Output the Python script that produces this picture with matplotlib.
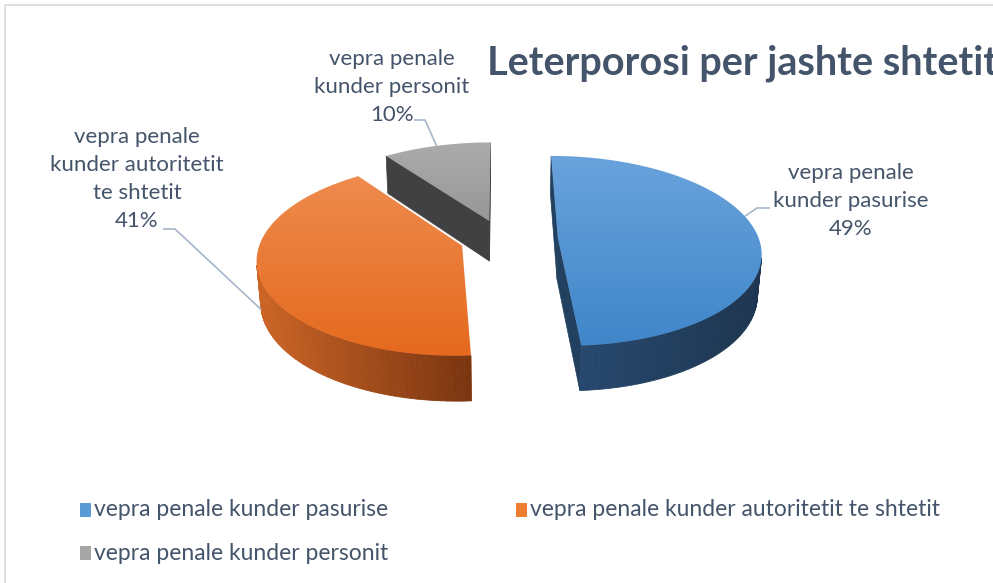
import numpy as np
import matplotlib
matplotlib.use("Agg")
import matplotlib.pyplot as plt
from matplotlib.patches import Polygon, Rectangle

# ---- data -------------------------------------------------------------
categories = [
    "vepra penale kunder pasurise",
    "vepra penale kunder autoritetit te shtetit",
    "vepra penale kunder personit",
]
shares = [49, 41, 10]
slice_labels = [
    "vepra penale\nkunder pasurise",
    "vepra penale\nkunder autoritetit\nte shtetit",
    "vepra penale\nkunder personit",
]
title = "Leterporosi per jashte shtetit"

# ---- styling ----------------------------------------------------------
FONT = "Lato"
TEXT_COLOR = "#44546a"
top_colors = [("#6aa3dc", "#3f86c9"), ("#ee8b4e", "#e5691e"), ("#ababab", "#979797")]
side_colors = [("#27496f", "#1d3550"), ("#cc6526", "#7a3510"), ("#474747", "#383838")]
radial_colors = ["#22405f", "#8a3c12", "#414141"]
legend_colors = ["#5b9bd5", "#ed7d31", "#a5a5a5"]
explode = [56, 42, 42]

W, H = 993, 583
fig = plt.figure(figsize=(W / 100, H / 100), dpi=100)
ax = fig.add_axes([0, 0, 1, 1])
ax.set_xlim(0, W)
ax.set_ylim(H, 0)
ax.axis("off")

# outer frame of the chart area
ax.add_patch(Rectangle((5, 5), W + 20, H + 20, fill=False, ec="#d9d9d9", lw=1.2))

# ---- 3D projection ----------------------------------------------------
R = 201.0
DEPTH = 47.0
ELEV = np.radians(27.7)
CAM = 1336.0
VX, PX, PY = 500.0, 502.0, 239.0
CAM_POS = np.array([VX - PX, -CAM * np.cos(ELEV), CAM * np.sin(ELEV)])


def proj(X, Y, Z):
    X, Y, Z = np.asarray(X, float), np.asarray(Y, float), np.asarray(Z, float)
    dv = Y * np.cos(ELEV) - Z * np.sin(ELEV)
    s = CAM / (CAM + dv)
    sx = VX + (PX - VX + X) * s
    sy = PY - (Y * np.sin(ELEV) + Z * np.cos(ELEV)) * s
    return sx, sy


def mix(c1, c2, f):
    a = np.array(matplotlib.colors.to_rgb(c1))
    b = np.array(matplotlib.colors.to_rgb(c2))
    return tuple(a + (b - a) * f)


def facing(normal, point):
    return np.dot(normal, CAM_POS - point) > 0


total = float(sum(shares))
bounds = np.concatenate([[0], np.cumsum(shares)]) / total * 360.0
geoms = []
for i in range(len(shares)):
    t0, t1 = bounds[i], bounds[i + 1]
    tm = np.radians((t0 + t1) / 2)
    off = np.array([np.sin(tm), np.cos(tm)]) * explode[i]
    geoms.append((t0, t1, off))


def draw_slice(i):
    t0, t1, off = geoms[i]
    n = max(8, int((t1 - t0) / 1.5))
    t = np.radians(np.linspace(t0, t1, n))
    ax_ = off[0] + R * np.sin(t)
    ay_ = off[1] + R * np.cos(t)
    top_x, top_y = proj(ax_, ay_, 0.0)
    bot_x, bot_y = proj(ax_, ay_, -DEPTH)
    cx_t, cy_t = proj(off[0], off[1], 0.0)
    cx_b, cy_b = proj(off[0], off[1], -DEPTH)

    # radial walls
    for tb, sign in ((t0, -1), (t1, 1)):
        tr = np.radians(tb)
        normal = np.array([sign * np.cos(tr), -sign * np.sin(tr), 0.0])
        p = np.array([off[0], off[1], -DEPTH / 2])
        if facing(normal, p):
            ex, ey = off[0] + R * np.sin(tr), off[1] + R * np.cos(tr)
            ex_t, ey_t = proj(ex, ey, 0.0)
            ex_b, ey_b = proj(ex, ey, -DEPTH)
            poly = [(cx_t, cy_t), (ex_t, ey_t), (ex_b, ey_b), (cx_b, cy_b)]
            ax.add_patch(Polygon(poly, closed=True, fc=radial_colors[i],
                                 ec=radial_colors[i], lw=0.5))

    # curved outer wall
    vis = []
    for k in range(n - 1):
        tmid = (t[k] + t[k + 1]) / 2
        normal = np.array([np.sin(tmid), np.cos(tmid), 0.0])
        p = np.array([off[0] + R * np.sin(tmid), off[1] + R * np.cos(tmid), -DEPTH / 2])
        if facing(normal, p):
            vis.append(k)
    if vis:
        xs = top_x[vis[0]:vis[-1] + 2]
        xmin, xmax = xs.min(), xs.max()
        for k in vis:
            xm = (top_x[k] + top_x[k + 1]) / 2
            f = 0.0 if xmax == xmin else (xm - xmin) / (xmax - xmin)
            col = mix(side_colors[i][0], side_colors[i][1], f)
            poly = [(top_x[k], top_y[k]), (top_x[k + 1], top_y[k + 1]),
                    (bot_x[k + 1], bot_y[k + 1]), (bot_x[k], bot_y[k])]
            ax.add_patch(Polygon(poly, closed=True, fc=col, ec=col, lw=0.6))

    # top face with vertical gradient
    verts = np.column_stack([np.concatenate([[cx_t], top_x]),
                             np.concatenate([[cy_t], top_y])])
    clip = Polygon(verts, closed=True, fc="none", ec="none")
    ax.add_patch(clip)
    y0, y1 = verts[:, 1].min(), verts[:, 1].max()
    x0, x1 = verts[:, 0].min(), verts[:, 0].max()
    grad = np.linspace(0, 1, 200)[:, None]
    c_a = np.array(matplotlib.colors.to_rgb(top_colors[i][0]))
    c_b = np.array(matplotlib.colors.to_rgb(top_colors[i][1]))
    img = c_a[None, None, :] + (c_b - c_a)[None, None, :] * grad[:, :, None]
    img = np.repeat(img, 2, axis=1)
    im = ax.imshow(img, extent=(x0 - 1, x1 + 1, y1 + 1, y0 - 1), aspect="auto",
                   interpolation="bilinear", zorder=3)
    im.set_clip_path(clip)
    ax.set_xlim(0, W)
    ax.set_ylim(H, 0)


# back to front: personit, autoritetit, pasurise
for i in (2, 1, 0):
    draw_slice(i)

# ---- data labels with leader lines -------------------------------------
LEADER = "#a6b6c8"
label_pos = [(851, 201), (137, 179), (392, 87)]
anchor_angles = [76.0, 256.0, 342.0]
anchor_depth = [0.0, -DEPTH * 0.95, 0.0]
elbows = [((770, 208), (757, 208)), ((163, 229), (175, 229)), ((414, 120), (425, 120))]
for i in range(len(shares)):
    txt = f"{slice_labels[i]}\n{shares[i]}%"
    ax.text(label_pos[i][0], label_pos[i][1], txt, ha="center", va="center",
            fontsize=16, family=FONT, color=TEXT_COLOR, linespacing=1.5, zorder=6)
    t0, t1, off = geoms[i]
    ta = np.radians(anchor_angles[i])
    axp, ayp = proj(off[0] + R * np.sin(ta), off[1] + R * np.cos(ta), anchor_depth[i])
    (e0, e1) = elbows[i]
    ax.plot([e0[0], e1[0], axp], [e0[1], e1[1], ayp], color=LEADER, lw=1.2, zorder=5,
            solid_capstyle="butt")

# ---- title ------------------------------------------------------------
ax.text(487, 75, title, ha="left", va="baseline", fontsize=28.5, fontweight="bold",
        family=FONT, color=TEXT_COLOR, clip_on=True)

# ---- legend -----------------------------------------------------------
legend_pos = [(80, 510), (516, 510), (80, 553)]
for i, name in enumerate(categories):
    lx, ly = legend_pos[i]
    col = legend_colors[i]
    ax.add_patch(Rectangle((lx, ly - 7), 11, 14, fc=col, ec="none"))
    ax.text(lx + 14, ly, name, ha="left", va="center", fontsize=16.5, family=FONT,
            color=TEXT_COLOR)

fig.savefig("out.png", dpi=100)
